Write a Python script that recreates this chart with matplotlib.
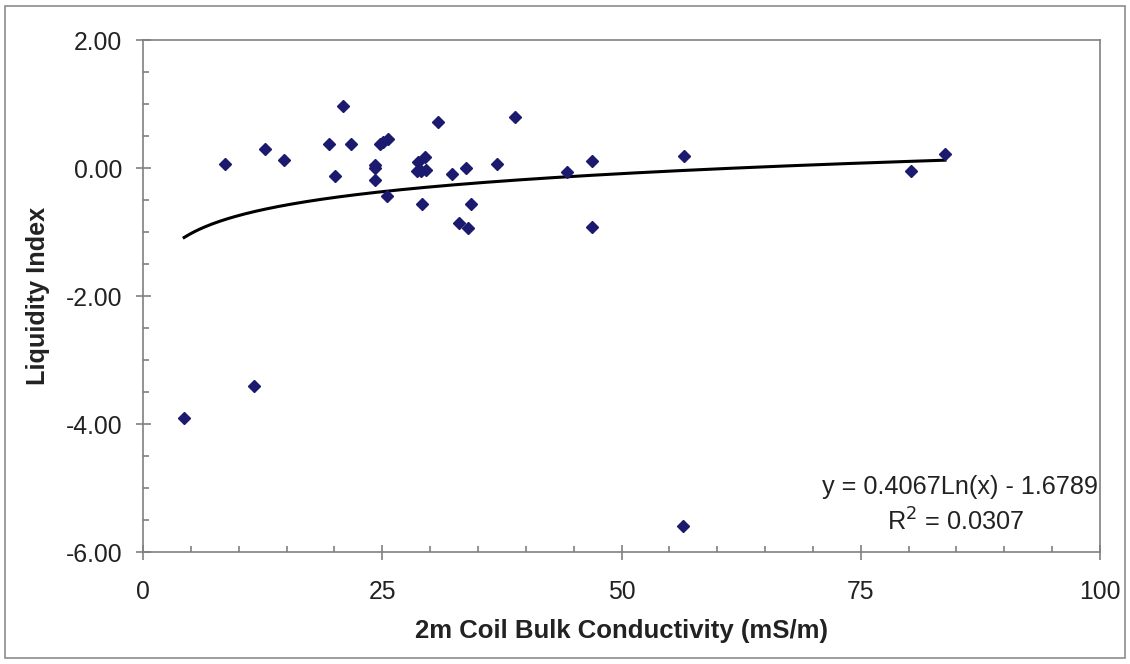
import numpy as np
import matplotlib.pyplot as plt
from matplotlib.patches import Rectangle
from matplotlib.ticker import MultipleLocator, FormatStrFormatter

plt.rcParams["font.family"] = ["Liberation Sans", "DejaVu Sans"]
plt.rcParams["axes.unicode_minus"] = False

# data
conductivity = [4.3, 8.6, 11.6, 12.7, 14.7, 19.4, 20.1, 20.9, 21.7, 24.2, 24.2, 24.2,
                24.8, 25.1, 25.6, 25.5, 28.6, 28.7, 29.1, 29.6, 29.5, 29.2, 30.8,
                32.3, 33.0, 33.75, 34.0, 34.3, 37.0, 38.9, 44.3, 46.9, 46.9, 56.5,
                56.4, 80.3, 83.8]
liquidity = [-3.91, 0.07, -3.41, 0.30, 0.12, 0.375, -0.13, 0.97, 0.37, 0.05, 0.0, -0.18,
             0.375, 0.41, 0.45, -0.43, -0.04, 0.10, -0.04, -0.03, 0.17, -0.56, 0.72,
             -0.09, -0.86, 0.005, -0.93, -0.57, 0.06, 0.79, -0.07, 0.11, -0.92, 0.18,
             -5.59, -0.05, 0.22]

# logarithmic trendline
slope = 0.4067
intercept = -1.6789
r_squared = 0.0307

W, H = 1130, 664
fig = plt.figure(figsize=(W / 100, H / 100), dpi=100)
fig.patches.append(Rectangle((5 / W, 6 / H), 1120 / W, 652 / H, transform=fig.transFigure,
                             fill=False, edgecolor="#8c8c8c", linewidth=1.2))

ax = fig.add_axes([143 / W, 112 / H, 957 / W, 512 / H])

xs = np.linspace(min(conductivity), max(conductivity), 300)
ax.plot(xs, slope * np.log(xs) + intercept, color="black", linewidth=2.2, zorder=2)
ax.plot(conductivity, liquidity, linestyle="none", marker="D", markersize=6.2,
        color="#1c1a6e", zorder=3)

ax.set_xlim(0, 100)
ax.set_ylim(-6, 2)
ax.xaxis.set_major_locator(MultipleLocator(25))
ax.xaxis.set_minor_locator(MultipleLocator(5))
ax.yaxis.set_major_locator(MultipleLocator(2))
ax.yaxis.set_minor_locator(MultipleLocator(0.5))
ax.yaxis.set_major_formatter(FormatStrFormatter("%.2f"))

for side in ax.spines.values():
    side.set_color("#808080")
    side.set_linewidth(1.2)

ax.tick_params(which="major", direction="inout", length=10.8, width=1.2, color="#808080",
               labelsize=17.8, labelcolor="#222222")
ax.tick_params(axis="x", which="major", pad=14.8)
ax.tick_params(axis="y", which="major", pad=9.7)
ax.tick_params(which="minor", direction="in", length=4.3, width=1.2, color="#808080")

ax.set_xlabel("2m Coil Bulk Conductivity (mS/m)", fontsize=18.5, fontweight="bold",
              labelpad=11, color="#222222")
ax.set_ylabel("Liquidity Index", fontsize=18.2, fontweight="bold", labelpad=11,
              color="#222222")

ax.text(0.9975, 0.127, f"y = {slope:.4f}Ln(x) - {abs(intercept):.4f}", transform=ax.transAxes,
        ha="right", va="center", fontsize=18.2, color="#222222")
ax.text(0.849, 0.0586, f"R$^2$ = {r_squared:.4f}", transform=ax.transAxes,
        ha="center", va="center", fontsize=18.2, color="#222222")

fig.savefig("out.png", dpi=100)
